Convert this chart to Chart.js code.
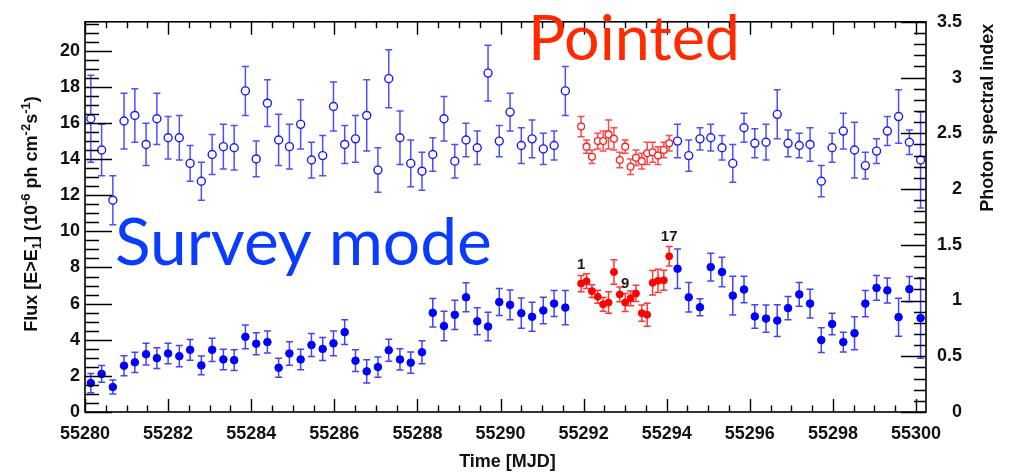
<!DOCTYPE html>
<html>
<head>
<meta charset="utf-8">
<script src="https://cdn.jsdelivr.net/npm/chart.js@4.4.0/dist/chart.umd.min.js"></script>
<style>
  html, body { margin: 0; padding: 0; background: #fff; }
  #wrap { width: 1012px; height: 472px; }
</style>
</head>
<body>
<div id="wrap"><canvas id="lc" width="1012" height="472"></canvas></div>
<script>
// survey-mode bins (MJD), flux in 1e-6 ph cm^-2 s^-1, photon index
const surveyTime = [
  55280.14, 55280.40, 55280.67, 55280.94, 55281.20, 55281.47, 55281.73, 55282.00, 55282.27, 55282.53,
  55282.80, 55283.06, 55283.33, 55283.59, 55283.86, 55284.12, 55284.39, 55284.66, 55284.92, 55285.19,
  55285.45, 55285.72, 55285.98, 55286.25, 55286.51, 55286.78, 55287.05, 55287.31, 55287.58, 55287.84,
  55288.11, 55288.37, 55288.64, 55288.90, 55289.17, 55289.44, 55289.70, 55289.97, 55290.23, 55290.50,
  55290.76, 55291.03, 55291.29, 55291.56,
  55294.26, 55294.53, 55294.80, 55295.06, 55295.33, 55295.59, 55295.86, 55296.12, 55296.39, 55296.66,
  55296.92, 55297.19, 55297.45, 55297.72, 55297.98, 55298.25, 55298.52, 55298.78, 55299.05, 55299.31,
  55299.58, 55299.84, 55300.11
];
const surveyFlux = [
  1.60, 2.11, 1.38, 2.56, 2.75, 3.20, 2.98, 3.24, 3.09, 3.44,
  2.58, 3.44, 2.91, 2.87, 4.16, 3.78, 3.87, 2.45, 3.24, 2.91,
  3.71, 3.49, 3.80, 4.42, 2.84, 2.25, 2.49, 3.42, 2.91, 2.73,
  3.31, 5.49, 4.76, 5.38, 6.35, 5.02, 4.73, 6.09, 5.93, 5.47,
  5.27, 5.62, 6.00, 5.78,
  7.93, 6.35, 5.80, 8.02, 7.75, 6.44, 6.78, 5.29, 5.17, 5.06,
  5.75, 6.51, 6.00, 3.98, 4.87, 3.87, 4.36, 6.00, 6.87, 6.73,
  5.25, 6.80, 5.20
];
const surveyFluxErr = [
  0.53, 0.47, 0.39, 0.56, 0.56, 0.60, 0.57, 0.57, 0.59, 0.58,
  0.52, 0.64, 0.57, 0.57, 0.66, 0.61, 0.61, 0.52, 0.65, 0.57,
  0.64, 0.64, 0.68, 0.69, 0.60, 0.64, 0.56, 0.61, 0.59, 0.59,
  0.64, 0.79, 0.82, 0.81, 0.80, 0.75, 0.79, 0.75, 0.82, 0.84,
  0.80, 0.73, 0.72, 0.95,
  1.09, 0.82, 0.47, 0.77, 0.82, 1.07, 0.73, 0.65, 0.75, 0.88,
  0.65, 0.66, 0.79, 0.68, 0.59, 0.55, 0.91, 0.73, 0.68, 0.69,
  1.05, 0.70, 2.23
];
const surveyIndex = [
  2.63, 2.35, 1.90, 2.61, 2.66, 2.40, 2.63, 2.46, 2.46, 2.23,
  2.07, 2.31, 2.38, 2.37, 2.88, 2.27, 2.77, 2.44, 2.38, 2.58,
  2.26, 2.30, 2.74, 2.40, 2.45, 2.66, 2.17, 2.99, 2.46, 2.23,
  2.16, 2.31, 2.63, 2.25, 2.44, 2.37, 3.04, 2.43, 2.69, 2.39,
  2.45, 2.36, 2.39, 2.88,
  2.43, 2.30, 2.45, 2.46, 2.37, 2.23, 2.55, 2.41, 2.42, 2.67,
  2.41, 2.39, 2.40, 2.07, 2.37, 2.52, 2.35, 2.21, 2.34, 2.52,
  2.65, 2.42, 2.26
];
const surveyIndexErr = [
  0.39, 0.23, 0.22, 0.25, 0.24, 0.19, 0.23, 0.19, 0.20, 0.16,
  0.17, 0.18, 0.20, 0.20, 0.22, 0.16, 0.21, 0.23, 0.20, 0.22,
  0.16, 0.18, 0.22, 0.17, 0.21, 0.32, 0.20, 0.26, 0.24, 0.21,
  0.17, 0.15, 0.20, 0.15, 0.15, 0.15, 0.25, 0.14, 0.17, 0.16,
  0.17, 0.14, 0.13, 0.22,
  0.15, 0.14, 0.10, 0.12, 0.11, 0.17, 0.13, 0.13, 0.16, 0.22,
  0.12, 0.11, 0.15, 0.14, 0.13, 0.16, 0.25, 0.12, 0.11, 0.13,
  0.24, 0.11, 0.43
];

// pointed-mode bins
const pointedTime = [
  55291.94, 55292.07, 55292.20, 55292.34, 55292.47, 55292.60, 55292.73, 55292.87, 55293.00,
  55293.13, 55293.26, 55293.40, 55293.53, 55293.66, 55293.79, 55293.93, 55294.06
];
const pointedFlux = [7.11, 7.24, 6.69, 6.38, 5.96, 6.06, 7.75, 6.51, 6.06, 6.29, 6.56, 5.47, 5.38, 7.15, 7.26, 7.29, 8.62];
const pointedFluxErr = [0.45, 0.41, 0.35, 0.36, 0.38, 0.59, 0.68, 0.41, 0.50, 0.41, 0.45, 0.45, 0.64, 0.68, 0.64, 0.55, 0.54];
const pointedIndex = [2.56, 2.38, 2.29, 2.43, 2.43, 2.49, 2.45, 2.26, 2.38, 2.20, 2.28, 2.25, 2.32, 2.33, 2.30, 2.35, 2.41];
const pointedIndexErr = [0.09, 0.06, 0.06, 0.07, 0.09, 0.13, 0.10, 0.07, 0.06, 0.07, 0.07, 0.07, 0.10, 0.09, 0.08, 0.07, 0.07];
const pointedLabels = ['1', '', '', '', '', '', '', '', '9', '', '', '', '', '', '', '', '17'];

// axes
const timeTicks = [55280, 55282, 55284, 55286, 55288, 55290, 55292, 55294, 55296, 55298, 55300];
const fluxTicks = [0, 2, 4, 6, 8, 10, 12, 14, 16, 18, 20];
const indexTicks = [0, 0.5, 1, 1.5, 2, 2.5, 3, 3.5];
const timeRange = [55280, 55300.24];
const fluxRange = [0, 21.6];
const indexRange = [0, 3.5];

const points = (xs, ys, es) => xs.map((x, i) => ({ x: x, y: ys[i], err: es[i] }));

const tickFont = { family: 'Liberation Sans', weight: 'bold', size: 18 };

const errorBars = {
  id: 'errorBars',
  beforeDatasetsDraw(chart) {
    const ctx = chart.ctx;
    const xs = chart.scales.x;
    chart.data.datasets.forEach(ds => {
      const ys = chart.scales[ds.yAxisID];
      ctx.save();
      ctx.strokeStyle = ds.errColor;
      ctx.lineWidth = 1.5;
      ctx.beginPath();
      ds.data.forEach(p => {
        const px = xs.getPixelForValue(p.x);
        const top = ys.getPixelForValue(p.y + p.err);
        const bot = ys.getPixelForValue(p.y - p.err);
        ctx.moveTo(px, top); ctx.lineTo(px, bot);
        ctx.moveTo(px - 3.5, top); ctx.lineTo(px + 3.5, top);
        ctx.moveTo(px - 3.5, bot); ctx.lineTo(px + 3.5, bot);
      });
      ctx.stroke();
      ctx.restore();
    });
  }
};

const binLabels = {
  id: 'binLabels',
  afterDatasetsDraw(chart) {
    const ctx = chart.ctx;
    const meta = chart.getDatasetMeta(2);
    ctx.save();
    ctx.font = 'bold 15px "Liberation Sans"';
    ctx.fillStyle = '#1a1a1a';
    ctx.textAlign = 'center';
    ctx.textBaseline = 'middle';
    pointedLabels.forEach((t, i) => {
      if (!t) return;
      const el = meta.data[i];
      ctx.fillText(t, el.x, el.y - 19);
    });
    ctx.restore();
  }
};

// draws text made of normal / superscript / subscript pieces
function richWidth(ctx, parts) {
  let w = 0;
  parts.forEach(p => {
    ctx.font = p.s ? 'bold 13px "Liberation Sans"' : 'bold 18px "Liberation Sans"';
    w += ctx.measureText(p.t).width;
  });
  return w;
}
function drawRich(ctx, parts, x0) {
  let x = x0;
  parts.forEach(p => {
    ctx.font = p.s ? 'bold 13px "Liberation Sans"' : 'bold 18px "Liberation Sans"';
    const dy = p.s === 1 ? -7 : (p.s === -1 ? 4 : 0);
    ctx.fillText(p.t, x, dy);
    x += ctx.measureText(p.t).width;
  });
}

const frame = {
  id: 'frame',
  afterDraw(chart) {
    const ctx = chart.ctx;
    const a = chart.chartArea;
    const xs = chart.scales.x, yl = chart.scales.yFlux, yr = chart.scales.yIdx;
    ctx.save();
    ctx.strokeStyle = '#000';
    ctx.lineWidth = 1.4;
    ctx.beginPath();
    // time axis: majors every 2 d, minors every 0.5 d, bottom and top
    for (let v = timeRange[0]; v <= timeRange[1] + 1e-6; v += 0.5) {
      const px = Math.round(xs.getPixelForValue(v)) + 0.5;
      const len = Math.abs((v - timeRange[0]) % 2) < 1e-6 ? 13 : 6.5;
      ctx.moveTo(px, a.bottom); ctx.lineTo(px, a.bottom - len);
      ctx.moveTo(px, a.top); ctx.lineTo(px, a.top + len);
    }
    // flux axis: majors every 2, minors every 0.5
    for (let v = 0; v <= fluxRange[1] + 1e-6; v += 0.5) {
      const py = Math.round(yl.getPixelForValue(v)) + 0.5;
      const len = Math.abs(v % 2) < 1e-6 ? 27 : 14;
      ctx.moveTo(a.left, py); ctx.lineTo(a.left + len, py);
    }
    // index axis: majors every 0.5, minors every 0.1
    for (let k = 0; k <= 35; k++) {
      const py = Math.round(yr.getPixelForValue(k / 10)) + 0.5;
      const len = k % 5 === 0 ? 25 : 12;
      ctx.moveTo(a.right, py); ctx.lineTo(a.right - len, py);
    }
    ctx.stroke();
    ctx.lineWidth = 1.6;
    ctx.strokeRect(a.left, a.top, a.right - a.left, a.bottom - a.top);

    // axis titles
    ctx.fillStyle = '#111';
    ctx.textBaseline = 'alphabetic';
    ctx.font = 'bold 18px "Liberation Sans"';
    ctx.textAlign = 'center';
    ctx.fillText('Time [MJD]', (a.left + a.right) / 2 + 2, 467);

    ctx.save();
    ctx.translate(993, a.top + 2);
    ctx.rotate(-Math.PI / 2);
    ctx.textAlign = 'right';
    ctx.fillText('Photon spectral index', 0, 0);
    ctx.restore();

    const fluxTitle = [
      { t: 'Flux [E>E', s: 0 }, { t: '1', s: -1 }, { t: '] (10', s: 0 }, { t: '-6', s: 1 },
      { t: ' ph cm', s: 0 }, { t: '-2', s: 1 }, { t: 's', s: 0 }, { t: '-1', s: 1 }, { t: ')', s: 0 }
    ];
    ctx.save();
    ctx.translate(37, 214);
    ctx.rotate(-Math.PI / 2);
    ctx.textAlign = 'left';
    drawRich(ctx, fluxTitle, -richWidth(ctx, fluxTitle) / 2);
    ctx.restore();

    // mode annotations
    ctx.textAlign = 'left';
    ctx.font = '100px Lato';
    let size = 100 * 377 / ctx.measureText('Survey mode').width;
    ctx.font = size + 'px Lato';
    ctx.fillStyle = '#0a3cff';
    ctx.fillText('Survey mode', 115, 265);
    ctx.font = '100px Lato';
    size = 100 * 212 / ctx.measureText('Pointed').width;
    ctx.font = size + 'px Lato';
    ctx.fillStyle = '#ff2a00';
    ctx.fillText('Pointed', 528, 60);
    ctx.restore();
  }
};

new Chart(document.getElementById('lc'), {
  type: 'scatter',
  data: {
    datasets: [
      {
        label: 'Survey flux',
        data: points(surveyTime, surveyFlux, surveyFluxErr),
        yAxisID: 'yFlux',
        pointRadius: 3.8,
        pointBackgroundColor: '#0000ff',
        pointBorderColor: '#0000ff',
        pointBorderWidth: 1,
        errColor: 'rgba(20,20,255,0.8)'
      },
      {
        label: 'Survey index',
        data: points(surveyTime, surveyIndex, surveyIndexErr),
        yAxisID: 'yIdx',
        pointRadius: 4,
        pointBackgroundColor: '#ffffff',
        pointBorderColor: '#1a1aff',
        pointBorderWidth: 1.4,
        errColor: 'rgba(20,20,255,0.75)'
      },
      {
        label: 'Pointed flux',
        data: points(pointedTime, pointedFlux, pointedFluxErr),
        yAxisID: 'yFlux',
        pointRadius: 3.5,
        pointBackgroundColor: '#ff0000',
        pointBorderColor: '#ff0000',
        pointBorderWidth: 1,
        errColor: 'rgba(255,20,20,0.85)'
      },
      {
        label: 'Pointed index',
        data: points(pointedTime, pointedIndex, pointedIndexErr),
        yAxisID: 'yIdx',
        pointRadius: 3.4,
        pointBackgroundColor: '#ffffff',
        pointBorderColor: '#ff2020',
        pointBorderWidth: 1.3,
        errColor: 'rgba(255,30,30,0.8)'
      }
    ]
  },
  options: {
    responsive: false,
    animation: false,
    devicePixelRatio: 1,
    // right padding leaves room for the index-axis title
    layout: { padding: { top: 16, left: 0, right: 50, bottom: 0 } },
    plugins: { legend: { display: false }, tooltip: { enabled: false } },
    elements: { point: { hoverRadius: 4 } },
    datasets: { scatter: { clip: false } },
    scales: {
      x: {
        type: 'linear',
        position: 'bottom',
        min: timeRange[0],
        max: timeRange[1],
        afterBuildTicks: s => { s.ticks = timeTicks.map(v => ({ value: v })); },
        afterFit: s => { s.height = 60; },
        grid: { display: false, drawTicks: false },
        border: { display: false },
        ticks: { font: tickFont, color: '#111', padding: 11, maxRotation: 0, autoSkip: false, callback: v => String(v) }
      },
      yFlux: {
        type: 'linear',
        position: 'left',
        min: fluxRange[0],
        max: fluxRange[1],
        afterBuildTicks: s => { s.ticks = fluxTicks.map(v => ({ value: v })); },
        afterFit: s => { s.width = 85; },
        grid: { display: false, drawTicks: false },
        border: { display: false },
        ticks: { font: tickFont, color: '#111', padding: 5, autoSkip: false, callback: v => String(v) }
      },
      yIdx: {
        type: 'linear',
        position: 'right',
        min: indexRange[0],
        max: indexRange[1],
        afterBuildTicks: s => { s.ticks = indexTicks.map(v => ({ value: v })); },
        afterFit: s => { s.width = 36; },
        grid: { display: false, drawTicks: false },
        border: { display: false },
        ticks: { font: tickFont, color: '#111', padding: 11, crossAlign: 'far', autoSkip: false, callback: v => String(v) }
      }
    }
  },
  plugins: [errorBars, binLabels, frame]
});
</script>
</body>
</html>
